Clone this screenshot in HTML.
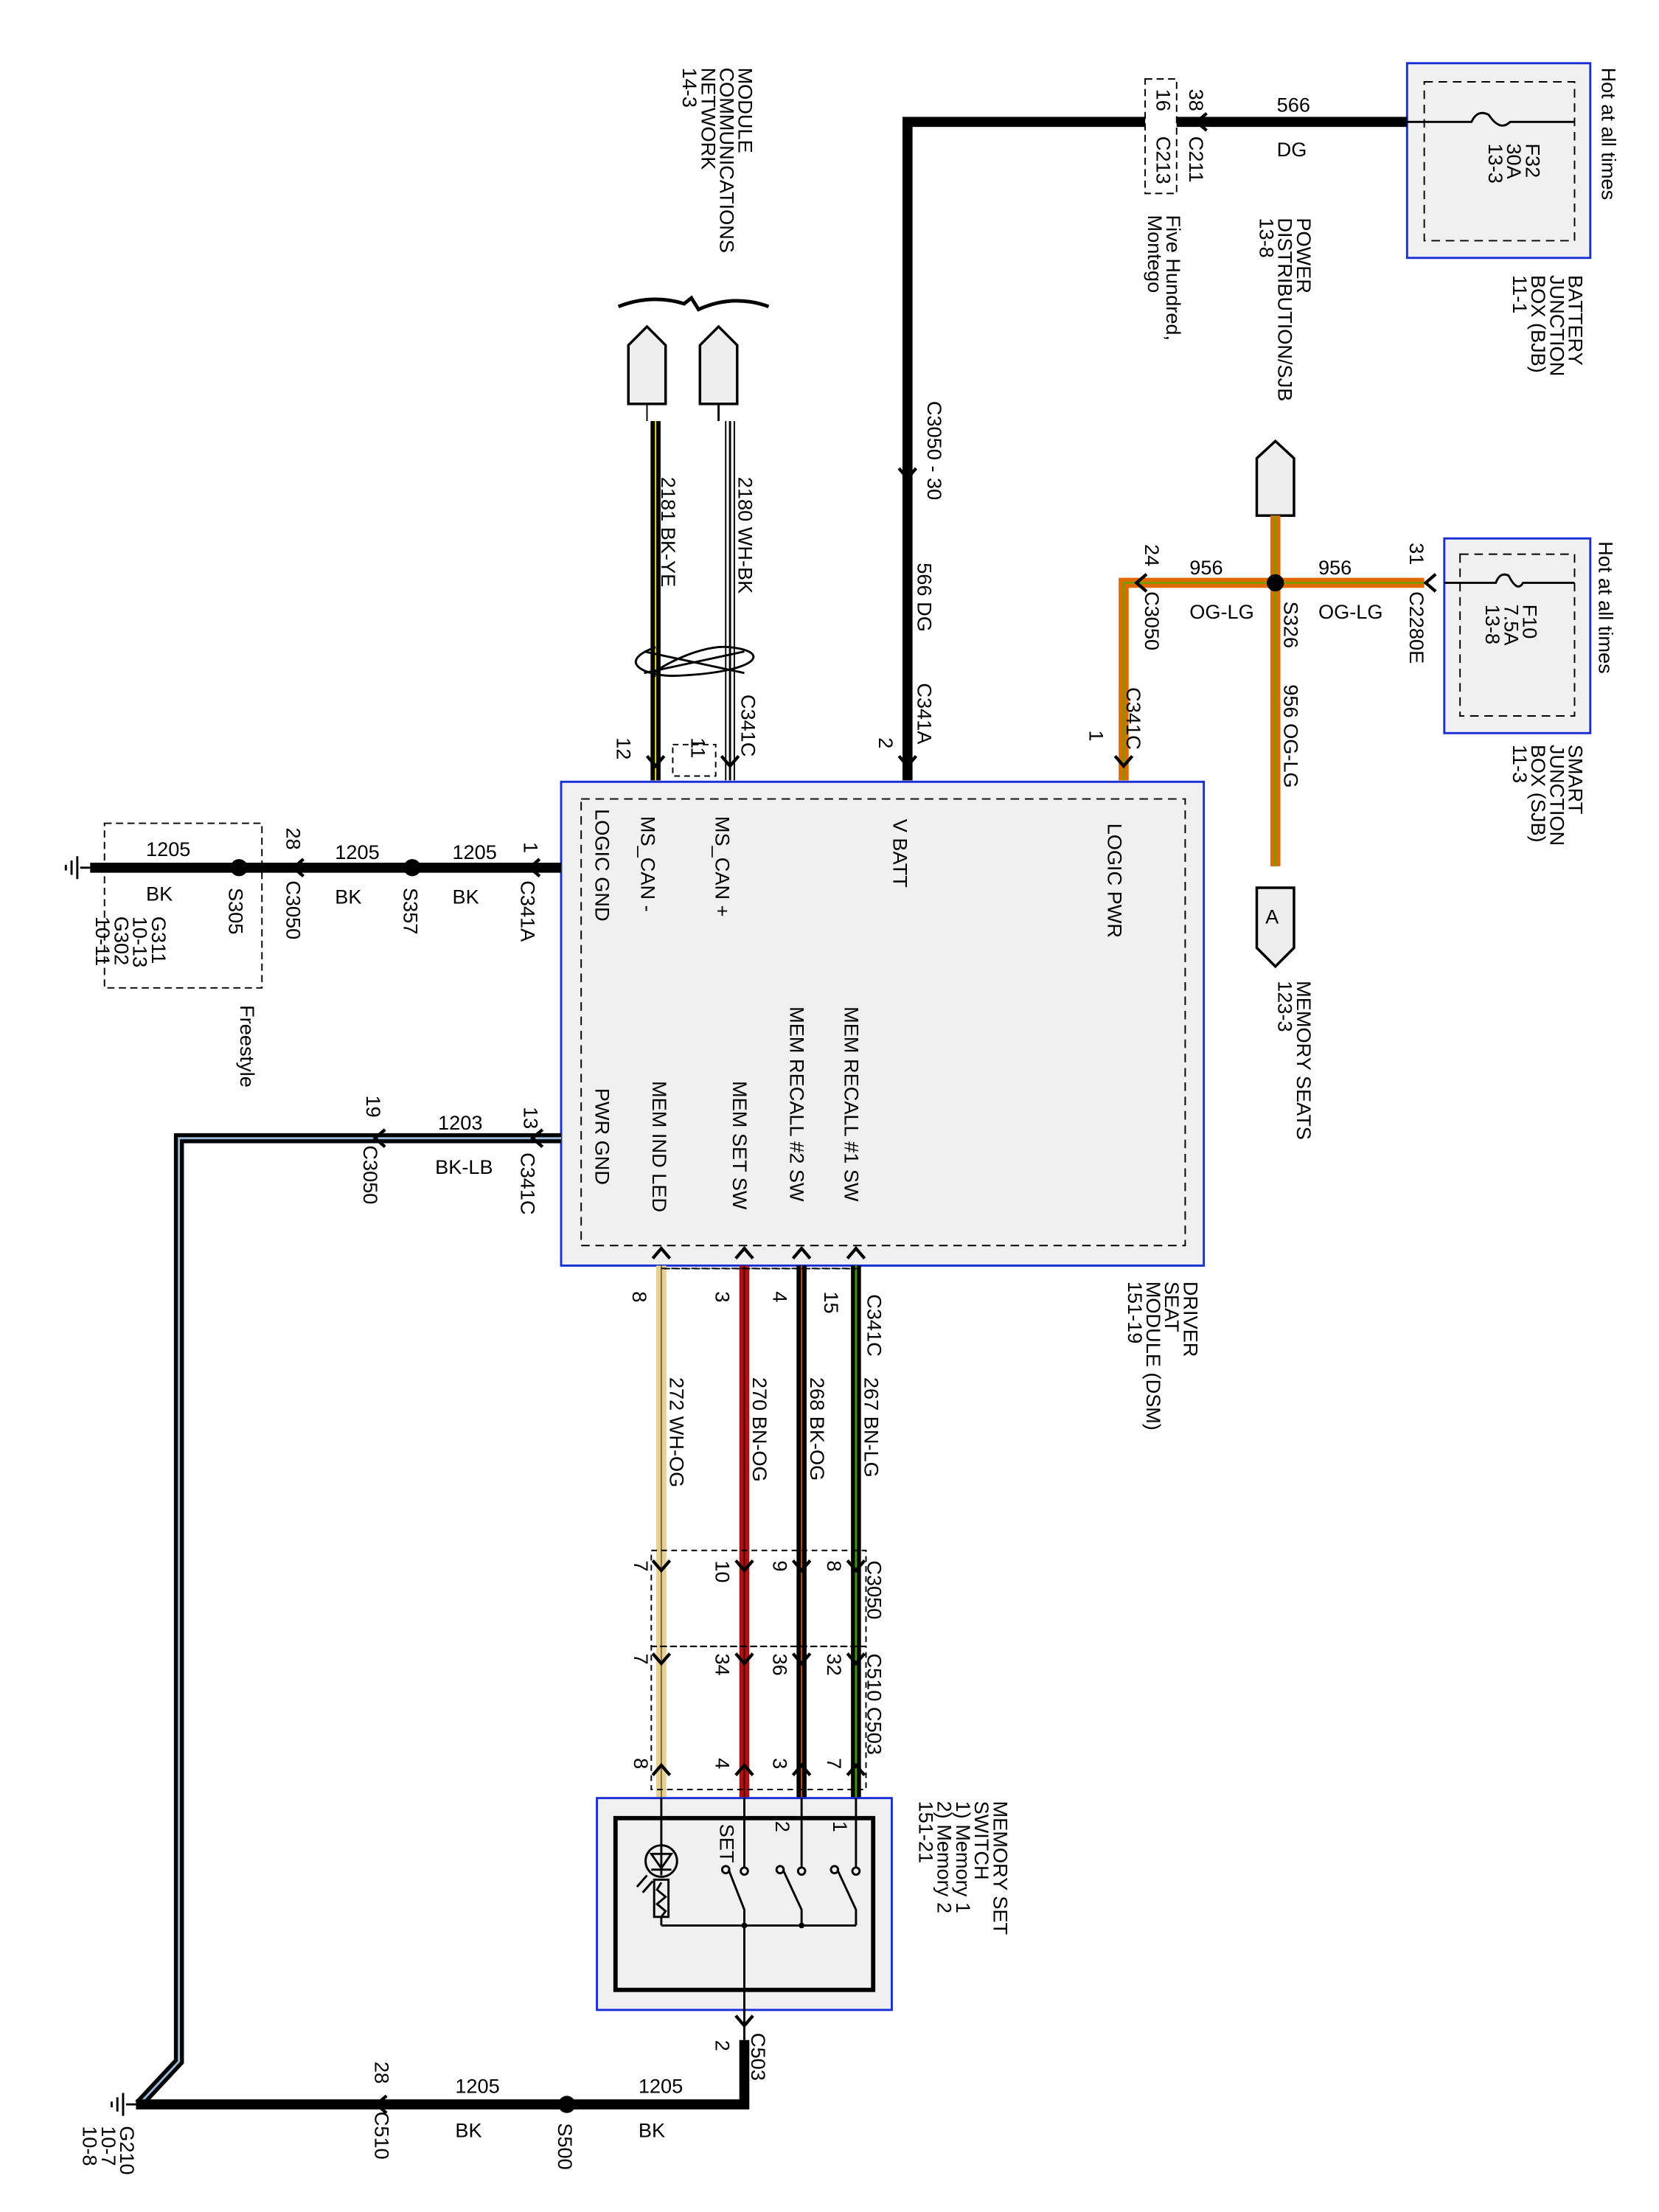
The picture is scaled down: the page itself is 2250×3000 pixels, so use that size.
<!DOCTYPE html>
<html><head><meta charset="utf-8"><style>
html,body{margin:0;padding:0;background:#fff}
svg{display:block}
text{font-family:"Liberation Sans",sans-serif;font-size:14px;fill:#000}
</style></head><body>
<svg width="2250" height="3000" viewBox="0 0 1159 1545" xmlns="http://www.w3.org/2000/svg">
<defs>
<g id="arr"><path d="M-6,-5 L0,2 L6,-5" fill="none" stroke="#000" stroke-width="2.2"/></g>
</defs>
<rect width="1159" height="1545" fill="#fff"/>

<!-- BJB -->
<rect x="983" y="44" width="128" height="136" fill="#f0f0f0" stroke="#1a2fd6" stroke-width="1.5"/>
<rect x="995" y="57" width="105" height="111" fill="none" stroke="#000" stroke-dasharray="6,4"/>
<path d="M983,85 L1028,85 Q1032,76 1040,80 Q1048,92 1055,85 L1100,85" fill="none" stroke="#000" stroke-width="1.5"/>
<g transform="translate(1066,100) rotate(90)"><text>F32</text><text y="13">30A</text><text y="26">13-3</text></g>
<text transform="translate(1119,47) rotate(90)">Hot at all times</text>
<g transform="translate(1096,192) rotate(90)"><text>BATTERY</text><text y="13">JUNCTION</text><text y="26">BOX (BJB)</text><text y="39">11-1</text></g>

<!-- 566 DG -->
<path d="M983,85 L634,85 L634,545" fill="none" stroke="#000" stroke-width="7"/>
<text x="892" y="78">566</text><text x="892" y="109">DG</text>
<use href="#arr" transform="translate(838,85) rotate(90)"/>
<rect x="800" y="55" width="22" height="80" fill="#fff" stroke="#000" stroke-dasharray="5,3"/>
<text transform="translate(831,62) rotate(90)">38</text>
<text transform="translate(831,95) rotate(90)">C211</text>
<text transform="translate(808,62) rotate(90)">16</text>
<text transform="translate(808,95) rotate(90)">C213</text>
<g transform="translate(815,150) rotate(90)"><text>Five Hundred,</text><text y="13">Montego</text></g>
<use href="#arr" transform="translate(634,332)"/>
<text transform="translate(648,280) rotate(90)">C3050 - 30</text>
<text transform="translate(641,393) rotate(90)">566    DG</text>
<text transform="translate(641,477) rotate(90)">C341A</text>
<text transform="translate(614,515) rotate(90)">2</text>
<use href="#arr" transform="translate(634,533)"/>

<!-- network -->
<g transform="translate(516,47) rotate(90)"><text>MODULE</text><text y="13">COMMUNICATIONS</text><text y="26">NETWORK</text><text y="39">14-3</text></g>
<path d="M432,214 Q455,205 478,212 L483,208 L488,216 Q512,205 537,214" fill="none" stroke="#000" stroke-width="2.5"/>
<path d="M439,282 L439,241 L452,228 L465,241 L465,282 Z" fill="#eee" stroke="#000" stroke-width="1.8"/>
<path d="M489,282 L489,241 L502,228 L515,241 L515,282 Z" fill="#eee" stroke="#000" stroke-width="1.8"/>
<line x1="452" y1="282" x2="452" y2="294" stroke="#000"/>
<line x1="458" y1="294" x2="458" y2="545" stroke="#000" stroke-width="7"/>
<line x1="458" y1="294" x2="458" y2="545" stroke="#e8e000" stroke-width="1"/>
<line x1="502" y1="282" x2="502" y2="294" stroke="#000" stroke-width="1.5"/>
<line x1="507" y1="294" x2="507" y2="545" stroke="#000" stroke-width="1"/>
<line x1="510" y1="294" x2="510" y2="545" stroke="#000" stroke-width="1.5"/>
<line x1="513" y1="294" x2="513" y2="545" stroke="#000" stroke-width="1"/>
<text transform="translate(462,333) rotate(90)">2181    BK-YE</text>
<text transform="translate(516,333) rotate(90)">2180    WH-BK</text>
<path d="M458,452 C430,462 450,472 470,472 C530,470 540,455 510,452 C485,449 445,475 458,472" fill="none" stroke="#000" stroke-width="1.5"/>
<path d="M450,455 L520,470 M450,470 L520,455" stroke="#000" stroke-width="1.5"/>
<text transform="translate(518,485) rotate(90)">C341C</text>
<text transform="translate(431,515) rotate(90)">12</text>
<text transform="translate(483,515) rotate(90)">11</text>
<rect x="470" y="520" width="30" height="22" fill="none" stroke="#000" stroke-dasharray="4,3"/>
<use href="#arr" transform="translate(458,533)"/>
<use href="#arr" transform="translate(510,533)"/>

<!-- power distribution / OG-LG -->
<g transform="translate(906,152) rotate(90)"><text>POWER</text><text y="13">DISTRIBUTION/SJB</text><text y="26">13-8</text></g>
<path d="M878,360 L878,320 L891,308 L904,320 L904,360 Z" fill="#eee" stroke="#000" stroke-width="1.8"/>
<g fill="none">
<path d="M891,360 L891,605" stroke="#e06a00" stroke-width="7"/>
<path d="M891,360 L891,605" stroke="#7a9a00" stroke-width="1.5"/>
<path d="M995,407 L785,407 L785,545" stroke="#e06a00" stroke-width="7"/>
<path d="M995,407 L785,407 L785,545" stroke="#7a9a00" stroke-width="1.5"/>
</g>
<circle cx="891" cy="407" r="6" fill="#000"/>
<text x="831" y="401">956</text><text x="921" y="401">956</text>
<text x="831" y="432">OG-LG</text><text x="921" y="432">OG-LG</text>
<text transform="translate(897,420) rotate(90)">S326</text>
<text transform="translate(897,478) rotate(90)">956     OG-LG</text>
<path d="M878,620 L904,620 L904,662 L891,675 L878,662 Z" fill="#eee" stroke="#000" stroke-width="1.8"/>
<text x="884" y="645">A</text>
<g transform="translate(906,685) rotate(90)"><text>MEMORY SEATS</text><text y="13">123-3</text></g>
<use href="#arr" transform="translate(998,407) rotate(90)"/>
<use href="#arr" transform="translate(796,407) rotate(90)"/>
<text transform="translate(985,379) rotate(90)">31</text>
<text transform="translate(985,413) rotate(90)">C2280E</text>
<text transform="translate(800,380) rotate(90)">24</text>
<text transform="translate(800,413) rotate(90)">C3050</text>
<text transform="translate(787,480) rotate(90)">C341C</text>
<text transform="translate(761,510) rotate(90)">1</text>
<use href="#arr" transform="translate(785,533)"/>

<!-- SJB -->
<rect x="1009" y="376" width="102" height="136" fill="#f0f0f0" stroke="#1a2fd6" stroke-width="1.5"/>
<rect x="1020" y="387" width="80" height="113" fill="none" stroke="#000" stroke-dasharray="6,4"/>
<path d="M1009,407 L1045,407 Q1048,399 1054,402 Q1060,414 1064,407 L1100,407" fill="none" stroke="#000" stroke-width="1.5"/>
<g transform="translate(1064,422) rotate(90)"><text>F10</text><text y="13">7.5A</text><text y="26">13-8</text></g>
<text transform="translate(1117,378) rotate(90)">Hot at all times</text>
<g transform="translate(1096,520) rotate(90)"><text>SMART</text><text y="13">JUNCTION</text><text y="26">BOX (SJB)</text><text y="39">11-3</text></g>

<!-- DSM -->
<rect x="392" y="546" width="449" height="338" fill="#f0f0f0" stroke="#1a2fd6" stroke-width="1.5"/>
<rect x="406" y="558" width="422" height="312" fill="none" stroke="#000" stroke-dasharray="6,4"/>
<text transform="translate(416,565) rotate(90)">LOGIC GND</text>
<text transform="translate(448,570) rotate(90)">MS_CAN -</text>
<text transform="translate(500,570) rotate(90)">MS_CAN +</text>
<text transform="translate(624,572) rotate(90)">V BATT</text>
<text transform="translate(774,575) rotate(90)">LOGIC PWR</text>
<text transform="translate(416,760) rotate(90)">PWR GND</text>
<text transform="translate(456,755) rotate(90)">MEM IND LED</text>
<text transform="translate(512,755) rotate(90)">MEM SET SW</text>
<text transform="translate(552,703) rotate(90)">MEM RECALL #2 SW</text>
<text transform="translate(590,703) rotate(90)">MEM RECALL #1 SW</text>
<g transform="translate(827,895) rotate(90)"><text>DRIVER</text><text y="13">SEAT</text><text y="26">MODULE (DSM)</text><text y="39">151-19</text></g>

<!-- LOGIC GND -->
<rect x="73" y="575" width="110" height="115" fill="none" stroke="#000" stroke-dasharray="5,3"/>
<line x1="63" y1="606" x2="392" y2="606" stroke="#000" stroke-width="7"/>
<use href="#arr" transform="translate(372,606) rotate(90)"/>
<use href="#arr" transform="translate(207,606) rotate(90)"/>
<circle cx="288" cy="606" r="6" fill="#000"/><circle cx="167" cy="606" r="6" fill="#000"/>
<text x="316" y="600">1205</text><text x="316" y="631">BK</text>
<text x="234" y="600">1205</text><text x="234" y="631">BK</text>
<text x="102" y="598">1205</text><text x="102" y="629">BK</text>
<text transform="translate(366,588) rotate(90)">1</text>
<text transform="translate(364,615) rotate(90)">C341A</text>
<text transform="translate(282,620) rotate(90)">S357</text>
<text transform="translate(200,578) rotate(90)">28</text>
<text transform="translate(200,615) rotate(90)">C3050</text>
<text transform="translate(160,620) rotate(90)">S305</text>
<path d="M63,606 L56,606 M54,598 L54,614 M50,601 L50,611 M46,604 L46,608" stroke="#000" stroke-width="1.5"/>
<g transform="translate(106,640) rotate(90)"><text>G311</text><text y="13">10-13</text><text y="26">G302</text><text y="39">10-11</text></g>
<text transform="translate(168,702) rotate(90)">Freestyle</text>

<!-- PWR GND -->
<path d="M392,795 L125,795 L125,1440 L97,1470" fill="none" stroke="#000" stroke-width="7"/>
<path d="M392,795 L125,795 L125,1440 L97,1470" fill="none" stroke="#9ab8d8" stroke-width="1.5"/>
<use href="#arr" transform="translate(374,795) rotate(90)"/>
<use href="#arr" transform="translate(264,795) rotate(90)"/>
<text x="306" y="789">1203</text><text x="304" y="820">BK-LB</text>
<text transform="translate(366,773) rotate(90)">13</text>
<text transform="translate(364,805) rotate(90)">C341C</text>
<text transform="translate(256,765) rotate(90)">19</text>
<text transform="translate(254,800) rotate(90)">C3050</text>

<!-- bottom wires -->
<g fill="none">
<line x1="462" y1="884" x2="462" y2="1256" stroke="#e8d090" stroke-width="7"/>
<line x1="462" y1="884" x2="462" y2="1256" stroke="#7a6a40" stroke-width="1"/>
<line x1="520" y1="884" x2="520" y2="1256" stroke="#b01010" stroke-width="7"/>
<line x1="520" y1="884" x2="520" y2="1256" stroke="#3a0000" stroke-width="1"/>
<line x1="560" y1="884" x2="560" y2="1256" stroke="#000" stroke-width="7"/>
<line x1="560" y1="884" x2="560" y2="1256" stroke="#c05020" stroke-width="1"/>
<line x1="598" y1="884" x2="598" y2="1256" stroke="#000" stroke-width="7"/>
<line x1="598" y1="884" x2="598" y2="1256" stroke="#3a9a00" stroke-width="1.5"/>
</g>
<g>
<use href="#arr" transform="translate(462,874) rotate(180)"/><use href="#arr" transform="translate(520,874) rotate(180)"/>
<use href="#arr" transform="translate(560,874) rotate(180)"/><use href="#arr" transform="translate(598,874) rotate(180)"/>
</g>
<rect x="462" y="886" width="136" height="0.1" stroke="#000" stroke-dasharray="4,3"/>
<text transform="translate(442,902) rotate(90)">8</text>
<text transform="translate(500,902) rotate(90)">3</text>
<text transform="translate(540,902) rotate(90)">4</text>
<text transform="translate(576,902) rotate(90)">15</text>
<text transform="translate(606,904) rotate(90)">C341C</text>
<text transform="translate(468,962) rotate(90)">272     WH-OG</text>
<text transform="translate(526,962) rotate(90)">270    BN-OG</text>
<text transform="translate(566,962) rotate(90)">268    BK-OG</text>
<text transform="translate(604,962) rotate(90)">267    BN-LG</text>
<rect x="455" y="1083" width="150" height="67" fill="none" stroke="#000" stroke-dasharray="4,3"/>
<rect x="455" y="1150" width="150" height="100" fill="none" stroke="#000" stroke-dasharray="4,3"/>
<g>
<use href="#arr" transform="translate(462,1095)"/><use href="#arr" transform="translate(520,1095)"/>
<use href="#arr" transform="translate(560,1095)"/><use href="#arr" transform="translate(598,1095)"/>
<use href="#arr" transform="translate(462,1160)"/><use href="#arr" transform="translate(520,1160)"/>
<use href="#arr" transform="translate(560,1160)"/><use href="#arr" transform="translate(598,1160)"/>
<use href="#arr" transform="translate(462,1235) rotate(180)"/><use href="#arr" transform="translate(520,1235) rotate(180)"/>
<use href="#arr" transform="translate(560,1235) rotate(180)"/><use href="#arr" transform="translate(598,1235) rotate(180)"/>
</g>
<text transform="translate(443,1090) rotate(90)">7</text><text transform="translate(500,1090) rotate(90)">10</text>
<text transform="translate(540,1090) rotate(90)">9</text><text transform="translate(578,1090) rotate(90)">8</text>
<text transform="translate(606,1090) rotate(90)">C3050</text>
<text transform="translate(443,1155) rotate(90)">7</text><text transform="translate(500,1155) rotate(90)">34</text>
<text transform="translate(540,1155) rotate(90)">36</text><text transform="translate(578,1155) rotate(90)">32</text>
<text transform="translate(606,1155) rotate(90)">C510  C503</text>
<text transform="translate(443,1228) rotate(90)">8</text><text transform="translate(500,1228) rotate(90)">4</text>
<text transform="translate(540,1228) rotate(90)">3</text><text transform="translate(578,1228) rotate(90)">7</text>

<!-- memory switch -->
<rect x="417" y="1256" width="206" height="148" fill="#f0f0f0" stroke="#1a2fd6" stroke-width="1.5"/>
<rect x="430" y="1270" width="180" height="120" fill="none" stroke="#000" stroke-width="3"/>
<g stroke="#000" stroke-width="1.5" fill="none">
<line x1="462" y1="1256" x2="462" y2="1310"/>
<circle cx="462" cy="1300" r="11"/>
<path d="M455,1295 L469,1295 L462,1305 Z M455,1306 L469,1306"/>
<path d="M452,1310 L445,1318 M456,1314 L449,1322"/>
<rect x="457" y="1313" width="10" height="26" fill="#f0f0f0"/>
<path d="M462,1315 L459,1320 L465,1325 L459,1330 L465,1335 L462,1339"/>
<line x1="462" y1="1339" x2="462" y2="1345"/>
<line x1="462" y1="1345" x2="598" y2="1345"/>
<line x1="520" y1="1256" x2="520" y2="1304"/>
<line x1="560" y1="1256" x2="560" y2="1304"/>
<line x1="598" y1="1256" x2="598" y2="1304"/>
<path d="M509,1306 L520,1334 L520,1425 M547,1306 L560,1334 L560,1345 M585,1306 L598,1334 L598,1345"/>
<circle cx="520" cy="1307" r="2.5"/><circle cx="560" cy="1307" r="2.5"/><circle cx="598" cy="1307" r="2.5"/>
<circle cx="507" cy="1306" r="2.5"/><circle cx="545" cy="1306" r="2.5"/><circle cx="583" cy="1306" r="2.5"/>
</g>
<circle cx="520" cy="1345" r="2" fill="#000"/><circle cx="560" cy="1345" r="2" fill="#000"/>
<text transform="translate(503,1274) rotate(90)">SET</text>
<text transform="translate(542,1272) rotate(90)">2</text>
<text transform="translate(582,1272) rotate(90)">1</text>
<g transform="translate(694,1258) rotate(90)"><text>MEMORY SET</text><text y="13">SWITCH</text><text y="26">1) Memory 1</text><text y="39">2) Memory 2</text><text y="52">151-21</text></g>

<!-- bottom ground -->
<path d="M520,1425 L520,1470 L95,1470" fill="none" stroke="#000" stroke-width="7"/>
<use href="#arr" transform="translate(520,1413)"/>
<text transform="translate(500,1425) rotate(90)">2</text>
<text transform="translate(525,1420) rotate(90)">C503</text>
<circle cx="396" cy="1470" r="6" fill="#000"/>
<use href="#arr" transform="translate(265,1470) rotate(90)"/>
<text x="446" y="1462">1205</text><text x="446" y="1493">BK</text>
<text x="318" y="1462">1205</text><text x="318" y="1493">BK</text>
<text transform="translate(262,1440) rotate(90)">28</text>
<text transform="translate(262,1475) rotate(90)">C510</text>
<text transform="translate(390,1483) rotate(90)">S500</text>
<path d="M95,1470 L88,1470 M86,1462 L86,1478 M82,1465 L82,1475 M78,1468 L78,1472" stroke="#000" stroke-width="1.5"/>
<g transform="translate(84,1485) rotate(90)"><text>G210</text><text y="13">10-7</text><text y="26">10-8</text></g>
</svg>
</body></html>
